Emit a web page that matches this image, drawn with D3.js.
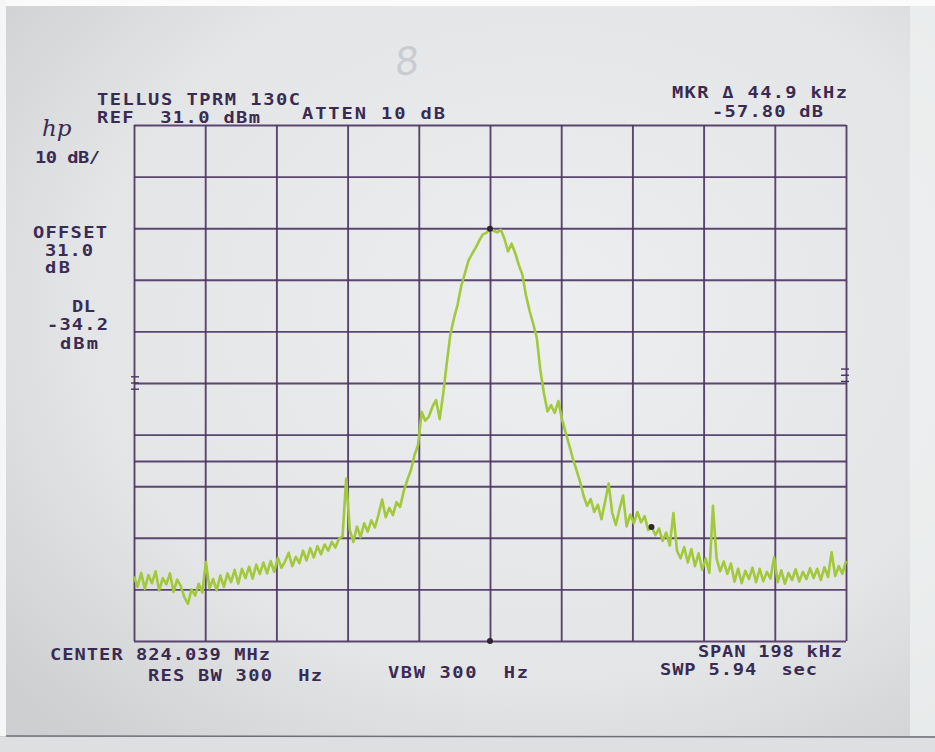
<!DOCTYPE html>
<html>
<head>
<meta charset="utf-8">
<script src="https://cdn.jsdelivr.net/npm/d3@7/dist/d3.min.js"></script>
<style>
    body { margin: 0; background: #e6e7e9; }
    #plot { width: 935px; height: 752px; }
    .label { font-family: "DejaVu Sans Mono", monospace; font-size: 15px; font-weight: bold; fill: #3a2b52; white-space: pre; }
</style>
</head>
<body>
<div id="plot"></div>
<script>
// HP spectrum analyzer plot: TELLUS TPRM 130C
// sweep: center 824.039 MHz, span 198 kHz, one reading per kHz from -99 to +99

const sweepStartKHz = -99;
const sweepStepKHz = 1;

// trace levels in dBm left to right
const traceLevels = [
    -56.5, -58.5, -55.8, -58.9, -56.2, -57.8, -55.5, -59.2, -56.8, -58.0, -55.9, -59.5, -57.1, -58.3,
    -60.5, -61.8, -59.0, -60.2, -57.9, -59.6,
    -53.7, -58.8, -57.0, -59.2, -56.3, -58.5, -55.9, -57.6, -55.2, -57.9, -55.0, -56.8, -54.6, -56.9,
    -54.2, -56.0, -53.8, -55.9, -53.5, -55.6, -52.9, -54.8, -53.6, -51.9, -54.5, -52.7, -53.9, -51.5,
    -53.4, -51.0, -52.8, -50.6, -52.2, -50.3, -51.5, -49.8, -50.9, -49.2, -48.7,
    -37.5,
    -47.5, -49.8, -46.8, -48.9, -46.2, -47.8, -45.6, -47.0, -44.5, -41.6, -45.0, -43.2, -44.6, -42.1,
    -43.0, -40.0, -37.8, -35.9, -33.0, -31.0,
    -24.6, -26.3, -25.5, -23.6, -22.3, -26.0, -21.0, -15.0, -9.5, -6.4, -3.8, -0.2, 2.2, 4.7, 6.0,
    7.2, 8.6, 9.8, 10.1,
    10.9,
    10.5, 10.2, 10.7, 9.0, 6.5, 8.0, 6.2, 3.9, 2.0, -2.0, -5.0, -7.5, -10.2, -16.5, -21.0, -24.5,
    -23.3, -24.8, -22.5, -26.0, -28.5, -31.0, -33.5, -35.8, -38.0, -40.8, -42.8, -41.5, -44.0, -42.6,
    -45.4, -42.0, -38.5, -44.2, -46.5, -43.5, -40.8, -46.8, -44.5, -46.2, -44.0, -46.0, -44.8, -47.5,
    -47.0, -48.5, -47.2, -49.6, -48.0, -50.5,
    -44.2, -51.5, -53.0, -50.8, -53.8, -51.2, -54.5, -52.0, -55.2, -53.0, -55.8, -42.8, -53.0, -55.5,
    -53.6, -56.0, -54.0, -57.5, -55.0, -57.8, -55.4, -57.0, -54.8, -57.6, -55.0, -57.4, -55.6, -56.9,
    -52.8, -57.6, -55.3, -57.9, -55.8, -57.2, -55.1, -57.5, -55.6, -57.0, -54.9, -56.8, -55.0, -57.2,
    -54.7, -56.6, -51.8, -56.4, -54.5, -56.0, -53.5
];

// axis settings
const refLevel = 31.0;        // dBm, top line
const dbPerDiv = 10;
const spanKHz = 198;
const displayLine = -34.2;    // dBm

// markers: [offset kHz, level dBm]
const markerPoints = [[0, 10.9], [44.9, -46.9]];

// annotation texts
const headerText = ["TELLUS TPRM 130C", "REF  31.0 dBm", "ATTEN 10 dB"];
const sideText = ["10 dB/", "OFFSET", "31.0", "dB", "DL", "-34.2", "dBm"];
const markerText = ["MKR \u0394 44.9 kHz", "-57.80 dB"];
const footerText = ["CENTER 824.039 MHz", "RES BW 300  Hz", "VBW 300  Hz", "SPAN 198 kHz", "SWP 5.94  sec"];

class SpectrumPlot {
    constructor(parentElement, levels) {
        this.parentElement = parentElement;
        this.data = levels.map((v, i) => ({ f: sweepStartKHz + i * sweepStepKHz, v: v }));
        this.initVis();
        this.drawVis();
    }

    initVis() {
        let vis = this;

        vis.margin = { top: 125, right: 89, bottom: 111, left: 134 };
        vis.fullWidth = 935;
        vis.fullHeight = 752;
        vis.width = vis.fullWidth - vis.margin.left - vis.margin.right;
        vis.height = vis.fullHeight - vis.margin.top - vis.margin.bottom;

        vis.root = d3.select("#" + vis.parentElement).append("svg")
            .attr("width", vis.fullWidth)
            .attr("height", vis.fullHeight);

        // paper look
        let defs = vis.root.append("defs");
        let grad = defs.append("radialGradient")
            .attr("id", "paper")
            .attr("cx", "58%").attr("cy", "42%").attr("r", "75%");
        grad.append("stop").attr("offset", "0%").attr("stop-color", "#eceef0");
        grad.append("stop").attr("offset", "65%").attr("stop-color", "#e4e5e7");
        grad.append("stop").attr("offset", "100%").attr("stop-color", "#cdcfd1");

        vis.root.append("rect")
            .attr("width", vis.fullWidth).attr("height", vis.fullHeight)
            .attr("fill", "url(#paper)");
        vis.root.append("rect")
            .attr("x", 910).attr("width", 25).attr("height", 736)
            .attr("fill", "#eef0f0").attr("opacity", 0.8);
        vis.root.append("rect")
            .attr("width", vis.fullWidth).attr("height", 6).attr("fill", "#fbfbfb");
        vis.root.append("rect")
            .attr("width", 6).attr("height", 736).attr("fill", "#f6f6f6");
        vis.root.append("rect")
            .attr("y", 737).attr("width", vis.fullWidth).attr("height", 15).attr("fill", "#dedfe0");
        vis.root.append("line")
            .attr("x1", 6).attr("x2", vis.fullWidth).attr("y1", 736).attr("y2", 737)
            .attr("stroke", "#6f6f78").attr("stroke-width", 1.5);

        // pencil mark
        vis.root.append("text")
            .attr("transform", "translate(397,76) rotate(-8)")
            .style("font-family", "DejaVu Sans")
            .style("font-size", "38px")
            .style("font-weight", "200")
            .style("font-style", "italic")
            .attr("fill", "#cbccd2")
            .text("8");

        vis.svg = vis.root.append("g")
            .attr("transform", `translate(${vis.margin.left}, ${vis.margin.top})`);

        vis.x = d3.scaleLinear()
            .domain([-spanKHz / 2, spanKHz / 2])
            .range([0, vis.width]);

        vis.y = d3.scaleLinear()
            .domain([refLevel - 10 * dbPerDiv, refLevel])
            .range([vis.height, 0]);

        vis.xAxis = d3.axisBottom(vis.x)
            .tickValues(d3.range(0, 11).map(i => -spanKHz / 2 + i * spanKHz / 10))
            .tickSize(-vis.height)
            .tickFormat("");

        vis.yAxis = d3.axisLeft(vis.y)
            .tickValues(d3.range(0, 11).map(i => refLevel - i * dbPerDiv))
            .tickSize(-vis.width)
            .tickFormat("");
    }

    drawVis() {
        let vis = this;
        let gridColor = "#4a3462";

        vis.svg.append("g")
            .attr("class", "x-grid")
            .attr("transform", "translate(0," + vis.height + ")")
            .call(vis.xAxis);

        vis.svg.append("g")
            .attr("class", "y-grid")
            .call(vis.yAxis);

        vis.svg.selectAll(".domain").remove();
        vis.svg.selectAll(".tick line")
            .attr("stroke", gridColor)
            .attr("stroke-width", 1.9)
            .attr("opacity", 0.9);

        // display line
        vis.svg.append("line")
            .attr("x1", 0).attr("x2", vis.width)
            .attr("y1", vis.y(displayLine)).attr("y2", vis.y(displayLine))
            .attr("stroke", gridColor)
            .attr("stroke-width", 1.9)
            .attr("opacity", 0.9);

        // little threshold ticks on both edges
        [-17.8, -19.0, -20.2].forEach(lv => {
            vis.svg.append("line")
                .attr("x1", -3).attr("x2", 5)
                .attr("y1", vis.y(lv)).attr("y2", vis.y(lv))
                .attr("stroke", gridColor).attr("stroke-width", 1.4);
            vis.svg.append("line")
                .attr("x1", vis.width - 5).attr("x2", vis.width + 3)
                .attr("y1", vis.y(lv + 1.5)).attr("y2", vis.y(lv + 1.5))
                .attr("stroke", gridColor).attr("stroke-width", 1.4);
        });

        // trace
        let line = d3.line()
            .x(d => vis.x(d.f))
            .y(d => vis.y(d.v));

        vis.svg.append("path")
            .datum(vis.data)
            .attr("fill", "none")
            .attr("stroke", "#a2c83c")
            .attr("stroke-width", 2.6)
            .attr("stroke-linejoin", "round")
            .attr("d", line);

        // markers
        vis.svg.selectAll(".marker")
            .data(markerPoints)
            .enter().append("circle")
            .attr("class", "marker")
            .attr("cx", d => vis.x(d[0]))
            .attr("cy", d => vis.y(d[1]))
            .attr("r", 3)
            .attr("fill", "#2d2533");

        vis.svg.append("circle")
            .attr("cx", vis.x(0))
            .attr("cy", vis.height)
            .attr("r", 3)
            .attr("fill", "#2d2533");

        // texts: [string, x, baseline, width]; plotter letters are wide, so stretch them
        let stretch = 1.25;
        let spots = [
            [headerText[0], 97, 105, 203],
            [headerText[1], 97, 123, 163],
            [headerText[2], 302, 119, 143],
            [sideText[0], 35, 163, 65],
            [sideText[1], 33, 238, 74],
            [sideText[2], 45, 256, 48],
            [sideText[3], 45, 273, 25],
            [sideText[4], 72, 312, 23],
            [sideText[5], 47, 330, 61],
            [sideText[6], 60, 349, 38],
            [markerText[0], 672, 98, 175],
            [markerText[1], 712, 117, 111],
            [footerText[0], 50, 660, 220],
            [footerText[1], 148, 681, 174],
            [footerText[2], 388, 678, 140],
            [footerText[3], 698, 657, 144],
            [footerText[4], 660, 675, 157]
        ];

        vis.root.selectAll(".label")
            .data(spots)
            .enter().append("text")
            .attr("class", "label")
            .attr("transform", d => `translate(${d[1]},${d[2]}) scale(${stretch},1)`)
            .attr("textLength", d => d[3] / stretch)
            .attr("lengthAdjust", "spacing")
            .text(d => d[0]);

        // hp logo
        vis.root.append("text")
            .attr("x", 42)
            .attr("y", 136)
            .style("font-family", "DejaVu Serif")
            .style("font-style", "italic")
            .style("font-size", "23px")
            .attr("fill", "#3a2b52")
            .text("hp");
    }
}

let plot = new SpectrumPlot("plot", traceLevels);
</script>
</body>
</html>
